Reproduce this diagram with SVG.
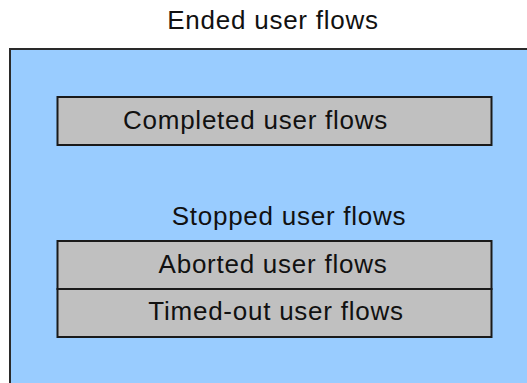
<svg xmlns="http://www.w3.org/2000/svg" width="527" height="383" viewBox="0 0 527 383">
<style>
.box{fill:#c0c0c0;stroke:#1a1a1a;stroke-width:2}
.outer{fill:#99ccff;stroke:#2a2a2a;stroke-width:2}
text{font-family:"Liberation Sans",Arial,sans-serif;font-size:26px;letter-spacing:0.75px;fill:#111;text-anchor:middle}
</style>
<rect width="527" height="383" fill="#ffffff"/>
<g id="ended">
<rect class="outer" x="10" y="49" width="540" height="360"/>
<text x="273" y="29">Ended user flows</text>
</g>
<g id="completed">
<rect class="box" x="57.5" y="97" width="434" height="48"/>
<text x="255.5" y="129">Completed user flows</text>
</g>
<g id="stopped">
<text x="289" y="225">Stopped user flows</text>
</g>
<g id="aborted">
<rect class="box" x="57.5" y="241" width="434" height="48"/>
<text x="273" y="273">Aborted user flows</text>
</g>
<g id="timedout">
<rect class="box" x="57.5" y="289" width="434" height="48"/>
<text x="276" y="320">Timed-out user flows</text>
</g>
<g id="connectors"/>
</svg>
